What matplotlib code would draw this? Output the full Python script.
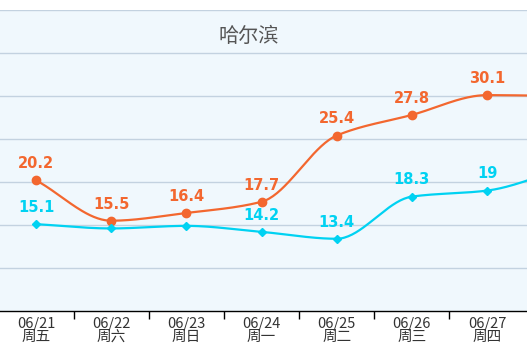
import numpy as np
import matplotlib
matplotlib.use('Agg')
import matplotlib.pyplot as plt

# data (last point is off the right edge, only its curve shows)
dates = ['06/21', '06/22', '06/23', '06/24', '06/25', '06/26', '06/27', '06/28']
weekdays = ['周五', '周六', '周日', '周一', '周二', '周三', '周四', '周五']
high = [20.2, 15.5, 16.4, 17.7, 25.4, 27.8, 30.1, 30.0]
low = [15.1, 14.6, 14.9, 14.2, 13.4, 18.3, 19.0, 21.5]
low_labels = ['15.1', '', '', '14.2', '13.4', '18.3', '19', '']
high_labels = ['20.2', '15.5', '16.4', '17.7', '25.4', '27.8', '30.1', '']

orange = '#f3672f'
cyan = '#00d2f2'


def monotone(x, y, n=40):
    # Fritsch-Carlson monotone cubic
    x = np.asarray(x, float); y = np.asarray(y, float)
    h = np.diff(x); d = np.diff(y) / h
    m = np.zeros_like(y)
    m[0] = d[0]; m[-1] = d[-1]
    for i in range(1, len(y) - 1):
        if d[i - 1] * d[i] <= 0:
            m[i] = 0
        else:
            m[i] = 2 * d[i - 1] * d[i] / (d[i - 1] + d[i])
    xs, ys = [], []
    for i in range(len(h)):
        t = np.linspace(0, 1, n)
        h00 = 2*t**3 - 3*t**2 + 1
        h10 = t**3 - 2*t**2 + t
        h01 = -2*t**3 + 3*t**2
        h11 = t**3 - t**2
        xs.append(x[i] + t * h[i])
        ys.append(h00*y[i] + h10*h[i]*m[i] + h01*y[i+1] + h11*h[i]*m[i+1])
    return np.concatenate(xs), np.concatenate(ys)


fig = plt.figure(figsize=(5.27, 3.53), dpi=100)
ax = fig.add_axes([0, 42/353, 1, 301/353])
ax.set_facecolor('#f0f8fd')

x = np.arange(len(dates))
for vals, col, mk, ms, labs in [(high, orange, 'o', 6, high_labels), (low, cyan, 'D', 4, low_labels)]:
    sx, sy = monotone(x, vals)
    ax.plot(sx, sy, color=col, lw=1.6, zorder=3)
    ax.plot(x, vals, ls='none', marker=mk, ms=ms, color=col, zorder=4)
    for xi, v, t in zip(x, vals, labs):
        if t:
            ax.annotate(t, (xi, v), xytext=(0, 12), textcoords='offset points',
                        ha='center', va='center', color=col, fontsize=10.5,
                        fontweight='bold', family='DejaVu Sans', zorder=5)

ax.set_yticks(np.arange(10, 41, 5))
ax.yaxis.grid(True, color='#c3d2e0', lw=1)
ax.set_axisbelow(True)
ax.tick_params(axis='y', length=0, labelleft=False)

ax.set_xticks(np.arange(0.5, 6, 1))
ax.set_xticklabels([])
ax.set_xticks(x, minor=True)
ax.set_xticklabels([d + '\n' + w for d, w in zip(dates, weekdays)], minor=True,
                   family='Noto Sans CJK SC', fontsize=10.5, color='#333333', linespacing=0.9)
ax.tick_params(axis='x', which='major', length=6, width=1, color='black', direction='out')
ax.tick_params(axis='x', which='minor', length=0, pad=4)

ax.set_ylim(5, 40)
step = 75.17
ax.set_xlim(-36/step, -36/step + 527/step)

for s in ['top', 'left', 'right']:
    ax.spines[s].set_visible(False)
ax.spines['bottom'].set_color('black')
ax.spines['bottom'].set_linewidth(1)

fig.text(249/527, 1 - 37/353, '哈尔滨', ha='center', va='center', fontsize=14.5,
         family='Noto Sans CJK SC', color='#555555')

fig.savefig('out.png', dpi=100)
